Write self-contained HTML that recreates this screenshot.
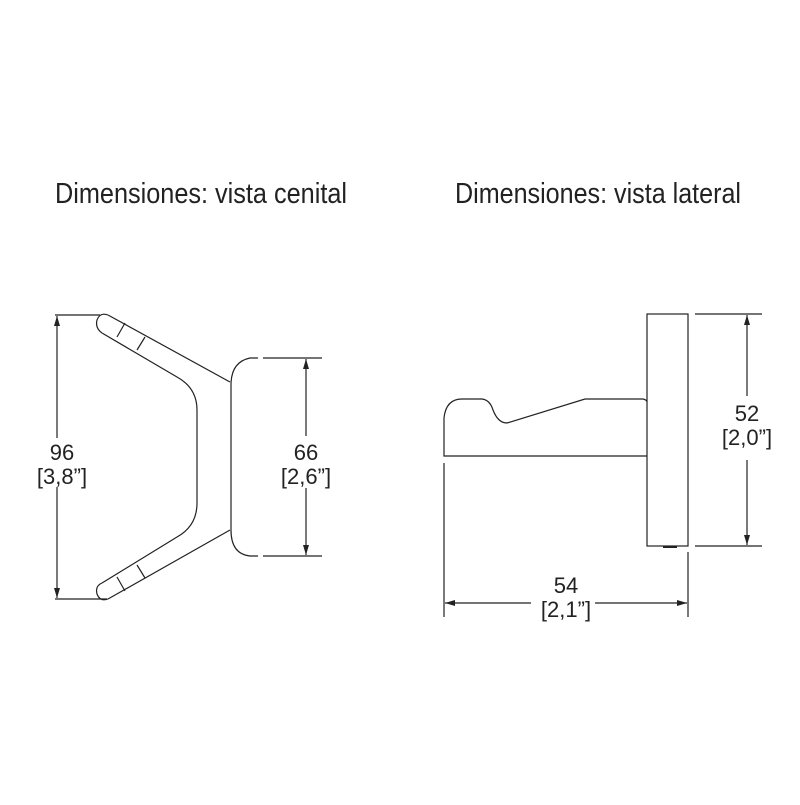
<!DOCTYPE html>
<html><head><meta charset="utf-8"><style>html,body{margin:0;padding:0;background:#fff}</style></head>
<body>
<svg width="800" height="800" viewBox="0 0 800 800" xmlns="http://www.w3.org/2000/svg" font-family="Liberation Sans, sans-serif" fill="none" stroke="#222" stroke-width="1.2">
<defs>
<marker id="a" viewBox="0 0 10 10" refX="10" refY="5" markerWidth="10" markerHeight="10" markerUnits="userSpaceOnUse" orient="auto-start-reverse"><path d="M0,2 L10,5 L0,8 z" fill="#222" stroke="none"/></marker>
</defs>
<g fill="#222" stroke="none" font-size="29">
<text x="55" y="203" textLength="292" lengthAdjust="spacingAndGlyphs">Dimensiones: vista cenital</text>
<text x="455" y="203" textLength="286" lengthAdjust="spacingAndGlyphs">Dimensiones: vista lateral</text>
</g>
<!-- top view -->
<path d="M108,315 L230,382 M102,333 L177,377 Q197,388 197,410 L197,503 Q197,526 177,537 L102,583 M230,530 L108,599"/>
<path d="M108,315 Q100,312 97,320 Q95,328 102,333"/>
<path d="M108,599 Q100,602 97,594 Q95,586 102,583"/>
<path d="M117,337 L125,323 M137,350 L145,337 M117,577 L125,591 M137,565 L145,578"/>
<path d="M258,358 L250,358 Q231,362 231,385 L231,530 Q231,554 250,556 L258,556"/>
<path d="M55,315 L100,315 M55,599 L107,599 M263,358 L322,358 M263,556 L322,556"/>
<path d="M57,438 L57,316" marker-end="url(#a)"/>
<path d="M57,487 L57,598" marker-end="url(#a)"/>
<path d="M306,436 L306,359" marker-end="url(#a)"/>
<path d="M306,488 L306,555" marker-end="url(#a)"/>
<g fill="#222" stroke="none" font-size="22" text-anchor="middle">
<text x="62" y="460">96</text><text x="62" y="484">[3,8”]</text>
<text x="306" y="460">66</text><text x="306" y="484">[2,6”]</text>
<text x="747" y="421">52</text><text x="747" y="445">[2,0”]</text>
<text x="566" y="593">54</text><text x="566" y="617">[2,1”]</text>
</g>
<!-- side view -->
<rect x="647" y="314" width="41" height="232"/>
<path d="M663,547 L677,547" stroke-width="2"/>
<path d="M647,456 L444,456 L444,418 Q446,399 462,399 L482,399 Q490,400 493,410 Q498,423 507,423 L585,399 L643,399 Q647,400 647,402"/>
<path d="M695,314 L762,314 M695,546 L762,546 M444,463 L444,617 M688,552 L688,617"/>
<path d="M747,396 L747,315" marker-end="url(#a)"/>
<path d="M747,460 L747,545" marker-end="url(#a)"/>
<path d="M531,603 L445,603" marker-end="url(#a)"/>
<path d="M595,603 L687,603" marker-end="url(#a)"/>
</svg>
</body></html>
